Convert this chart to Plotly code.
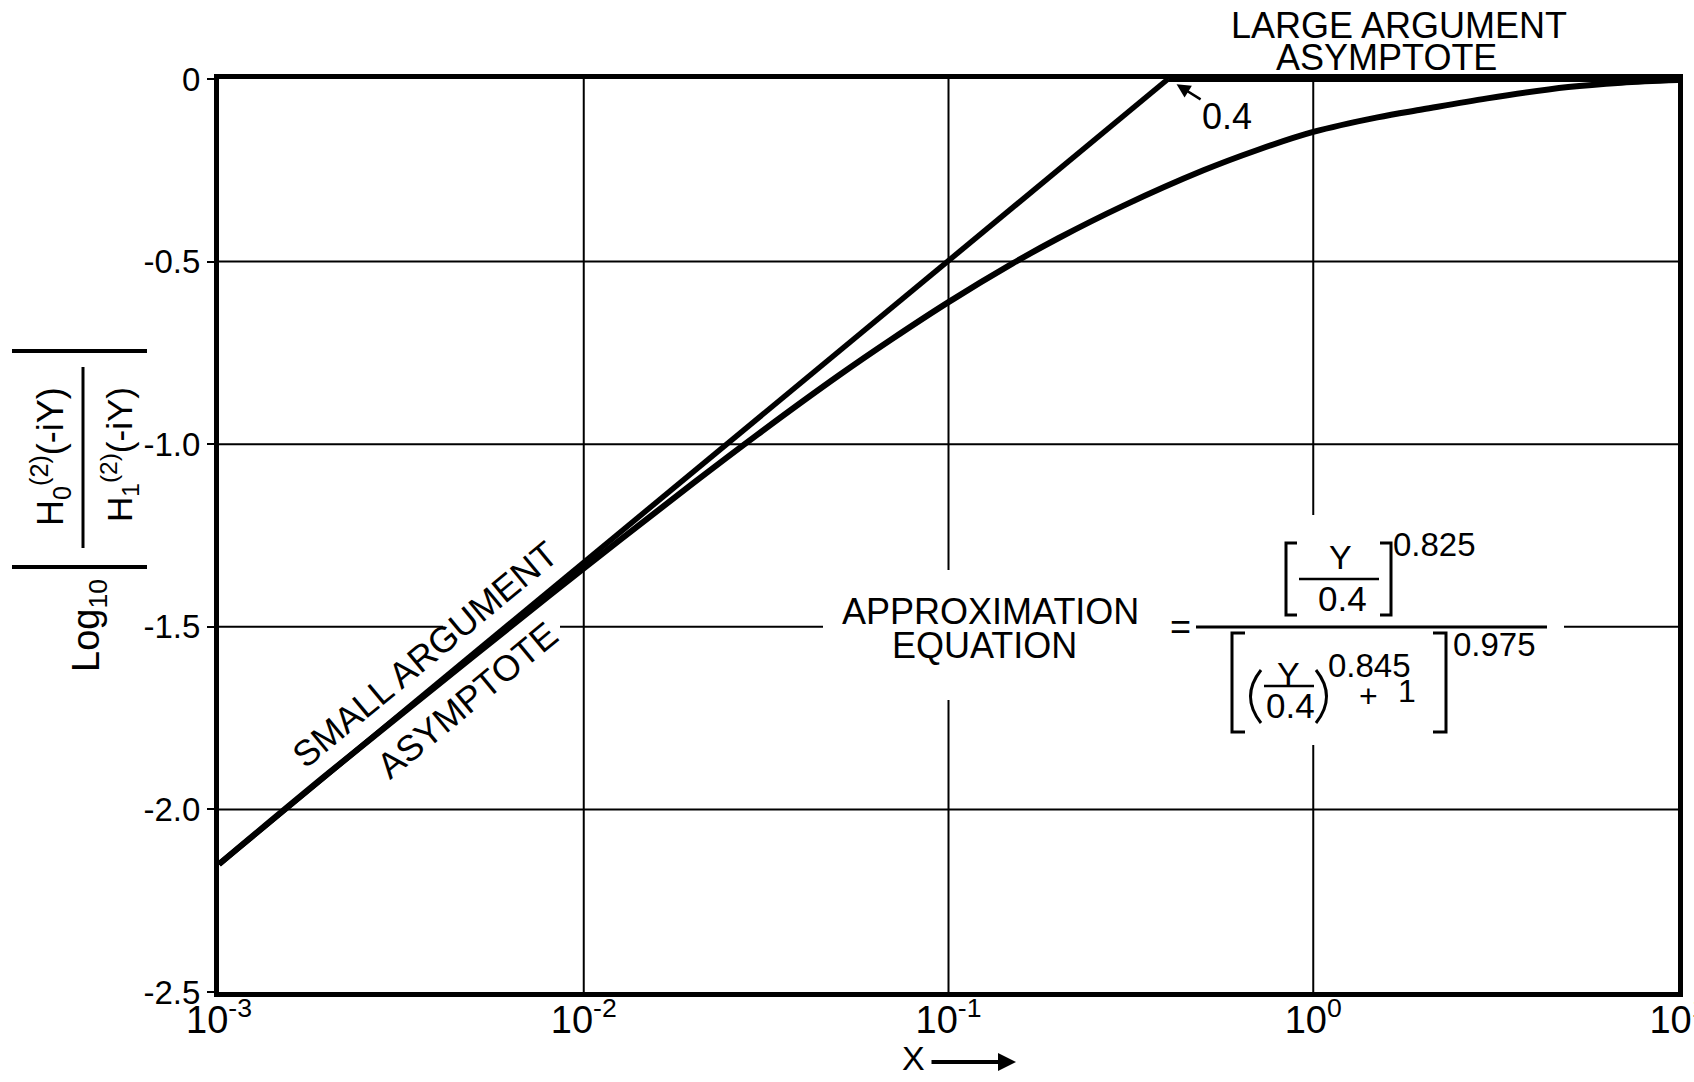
import math
import plotly.graph_objects as go

# ---- axis ticks ----
x_tick_vals = [1e-3, 1e-2, 1e-1, 1e0, 1e1]
x_tick_text = ["10<sup>-3</sup>", "10<sup>-2</sup>", "10<sup>-1</sup>", "10<sup>0</sup>", "10<sup>1</sup>"]
y_tick_vals = [0.0, -0.5, -1.0, -1.5, -2.0, -2.5]
y_tick_text = ["0", "-0.5", "-1.0", "-1.5", "-2.0", "-2.5"]
x_range_log = [-3, 1]
y_range = [-2.5, 0]

# ---- approximation curve: log10 |H0(2)/H1(2)| versus Y ----
approx_x = [0.001, 0.002, 0.005, 0.01, 0.02, 0.03, 0.05, 0.07, 0.1, 0.15,
            0.2, 0.3, 0.5, 0.7, 1.0, 1.5, 2.0, 3.0, 5.0, 7.0, 10.0]
approx_y = [-2.15, -1.90, -1.58, -1.34, -1.106, -0.973, -0.812, -0.712, -0.611, -0.505,
            -0.436, -0.348, -0.25, -0.195, -0.145, -0.105, -0.083, -0.053, -0.022, -0.010, -0.003]

# ---- asymptotes ----
small_asym_x = [0.001, 0.4]
small_asym_y = [-2.15, 0.0]
large_asym_x = [0.4, 10.0]
large_asym_y = [0.0, 0.0]
knee_x = 0.4

# ---- page geometry (pixels) ----
FIG_W, FIG_H = 1694, 1082
M_L, M_R, M_T, M_B = 219, 16, 79, 90
PLOT_W = FIG_W - M_L - M_R
PLOT_H = FIG_H - M_T - M_B

FONT = "Liberation Sans, Arial, sans-serif"
INK = "black"


def px(xp):
    """page x pixel -> paper fraction"""
    return (xp - M_L) / PLOT_W


def py(yp):
    """page y pixel -> paper fraction"""
    return (FIG_H - M_B - yp) / PLOT_H


def label(text, xp, yp, size, angle=0):
    return dict(text=text, xref="paper", yref="paper", x=px(xp), y=py(yp),
                xanchor="center", yanchor="middle", showarrow=False,
                textangle=angle, font=dict(size=size, color=INK, family=FONT))


def seg(x0, y0, x1, y1, width=3):
    return dict(type="line", xref="paper", yref="paper",
                x0=px(x0), y0=py(y0), x1=px(x1), y1=py(y1),
                line=dict(color=INK, width=width), layer="above")


def mask(x0, y0, x1, y1):
    # white patch that hides grid lines behind lettering
    return dict(type="rect", xref="paper", yref="paper",
                x0=px(x0), y0=py(y0), x1=px(x1), y1=py(y1),
                fillcolor="white", line=dict(width=0), layer="below")


def bracket(x_stem, x_tip, y0, y1, width=3):
    path = (f"M {px(x_tip)},{py(y0)} L {px(x_stem)},{py(y0)} "
            f"L {px(x_stem)},{py(y1)} L {px(x_tip)},{py(y1)}")
    return dict(type="path", xref="paper", yref="paper", path=path,
                line=dict(color=INK, width=width), layer="above")


def paren(x_end, x_ctrl, y0, y1, width=3):
    ym = (y0 + y1) / 2
    path = f"M {px(x_end)},{py(y0)} Q {px(x_ctrl)},{py(ym)} {px(x_end)},{py(y1)}"
    return dict(type="path", xref="paper", yref="paper", path=path,
                line=dict(color=INK, width=width), layer="above")


fig = go.Figure()

fig.add_trace(go.Scatter(x=small_asym_x, y=small_asym_y, mode="lines",
                         line=dict(color=INK, width=5.5), hoverinfo="skip", showlegend=False))
fig.add_trace(go.Scatter(x=large_asym_x, y=large_asym_y, mode="lines",
                         line=dict(color=INK, width=6), hoverinfo="skip", showlegend=False))
fig.add_trace(go.Scatter(x=approx_x, y=approx_y, mode="lines", line_shape="spline",
                         line=dict(color=INK, width=6), hoverinfo="skip", showlegend=False))

# grid drawn as shapes so lettering can interrupt it
shapes = []
for v in x_tick_vals[1:-1]:
    xf = (math.log10(v) - x_range_log[0]) / (x_range_log[1] - x_range_log[0])
    shapes.append(dict(type="line", xref="paper", yref="paper", x0=xf, x1=xf, y0=0, y1=1,
                       line=dict(color=INK, width=2), layer="below"))
for v in y_tick_vals[1:-1]:
    yf = (v - y_range[0]) / (y_range[1] - y_range[0])
    shapes.append(dict(type="line", xref="paper", yref="paper", x0=0, x1=1, y0=yf, y1=yf,
                       line=dict(color=INK, width=2), layer="below"))

shapes += [
    # grid gaps behind lettering
    mask(443, 619, 560, 635),
    mask(823, 570, 1172, 700),
    mask(1172, 515, 1564, 745),
    # |  H0 / H1  |  of the vertical axis title
    seg(12, 351, 147, 351, width=4),
    seg(12, 567, 147, 567, width=4),
    seg(83, 367, 83, 548, width=3),
    # approximation equation
    seg(1196, 627, 1547, 627, width=3),
    bracket(1286, 1297, 543, 615),
    seg(1299, 579, 1379, 579, width=2.5),
    bracket(1391, 1380, 543, 615),
    bracket(1232, 1245, 633, 732),
    paren(1261, 1240, 670, 723),
    seg(1264, 686, 1314, 686, width=2.5),
    paren(1316, 1337, 670, 723),
    bracket(1446, 1433, 633, 732),
]

annotations = [
    label("LARGE ARGUMENT", 1399, 26, 36),
    label("ASYMPTOTE", 1386, 58, 36),
    label("SMALL ARGUMENT", 425, 655, 36, angle=-39.6),
    label("ASYMPTOTE", 467, 701, 36, angle=-39.6),
    label("APPROXIMATION", 990, 611, 36),
    label("EQUATION", 984, 645, 36),
    # equation lettering
    label("=", 1180, 626, 36),
    label("Y", 1340, 557, 34),
    label("0.4", 1342, 598, 35),
    label("0.825", 1434, 544, 33),
    label("Y", 1288, 674, 34),
    label("0.4", 1290, 705, 35),
    label("0.845", 1369, 665, 33),
    label("+", 1368, 696, 32),
    label("1", 1407, 691, 32),
    label("0.975", 1494, 644, 33),
    # vertical axis title pieces
    label("Log<sub>10</sub>", 89, 626, 38, angle=-90),
    label("H<sub>0</sub><sup>(2)</sup>(-iY)", 50, 457, 36, angle=-90),
    label("H<sub>1</sub><sup>(2)</sup>(-iY)", 119, 455, 35, angle=-90),
    # horizontal axis title
    label("X", 913, 1058, 34),
    dict(text="", xref="paper", yref="paper", x=px(1016), y=py(1062),
         ax=-86, ay=0, showarrow=True, arrowhead=2, arrowsize=0.9,
         arrowwidth=4, arrowcolor=INK),
    # knee of the asymptotes
    dict(text="0.4", xref="x", yref="y", x=math.log10(knee_x), y=0,
         ax=59, ay=37, showarrow=True, arrowhead=2, arrowsize=1.1,
         arrowwidth=2.5, arrowcolor=INK, standoff=10,
         font=dict(size=36, color=INK, family=FONT)),
]

fig.update_layout(
    width=FIG_W, height=FIG_H,
    margin=dict(l=M_L, r=M_R, t=M_T, b=M_B, pad=0, autoexpand=False),
    paper_bgcolor="white", plot_bgcolor="rgba(0,0,0,0)",
    showlegend=False,
    shapes=shapes,
    annotations=annotations,
)

fig.update_xaxes(
    type="log", range=x_range_log,
    tickvals=x_tick_vals, ticktext=x_tick_text,
    tickfont=dict(size=38, color=INK, family=FONT),
    ticks="", ticklabelstandoff=-10, ticklabeloverflow="allow", automargin=False,
    showgrid=False,
    showline=True, linecolor=INK, linewidth=5, mirror=True, zeroline=False,
)
fig.update_yaxes(
    range=y_range,
    tickvals=y_tick_vals, ticktext=y_tick_text,
    tickfont=dict(size=33, color=INK, family=FONT),
    ticks="outside", ticklen=7, tickwidth=2, tickcolor=INK, automargin=False,
    showgrid=False,
    showline=True, linecolor=INK, linewidth=5, mirror=True, zeroline=False,
)

fig.write_html("out.html")
